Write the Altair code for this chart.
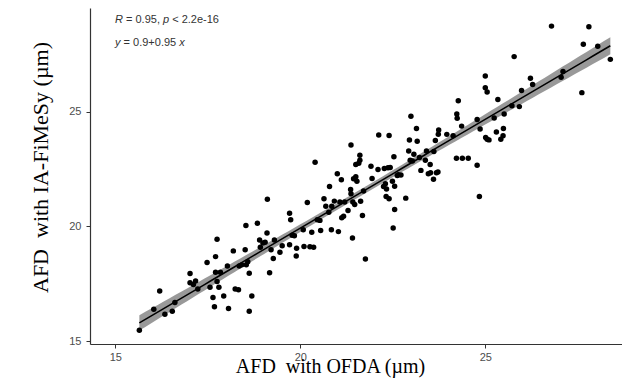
import altair as alt
import pandas as pd
import numpy as np

# AFD measured with OFDA (x) and with IA-FiMeSy (y), values in micrometres
ofda = [15.65, 16.04, 16.20, 16.34, 16.54, 16.61, 17.02, 17.02, 17.11, 17.17,
        17.23, 17.48, 17.56, 17.64, 17.68, 17.71, 17.75, 17.71, 17.75, 17.80,
        17.84, 17.93, 18.03, 18.06, 18.19, 18.24, 18.33, 18.35, 18.42, 18.51,
        18.53, 18.54, 18.58, 18.62, 18.62, 18.69, 18.84, 18.90, 18.92, 18.99,
        19.05, 19.10, 19.11, 19.17, 19.21, 19.27, 19.30, 19.45, 19.51, 19.71,
        19.74, 19.71, 19.78, 19.84, 19.89, 19.90, 20.08, 20.10, 20.19, 20.26,
        20.31, 20.36, 20.40, 20.46, 20.53, 20.55, 20.64, 20.69, 20.77, 20.79,
        20.84, 20.85, 20.92, 21.00, 21.03, 21.07, 21.11, 21.12, 21.17, 21.20,
        21.29, 21.36, 21.37, 21.37, 21.41, 21.42, 21.44, 21.47, 21.50, 21.53,
        21.50, 21.58, 21.61, 21.61, 21.63, 21.68, 21.71, 21.76, 21.91, 21.94,
        22.12, 22.10, 22.25, 22.27, 22.30, 22.32, 22.33, 22.37, 22.40, 22.40,
        22.43, 22.49, 22.51, 22.53, 22.55, 22.55, 22.62, 22.65, 22.72, 22.85,
        22.93, 22.95, 22.97, 22.99, 23.03, 23.07, 23.14, 23.16, 23.22, 23.26,
        23.38, 23.41, 23.46, 23.51, 23.52, 23.60, 23.61, 23.65, 23.68, 23.72,
        23.73, 23.74, 23.96, 24.13, 24.22, 24.23, 24.24, 24.27, 24.36, 24.38,
        24.54, 24.78, 24.78, 24.84, 24.86, 25.00, 25.00, 25.05, 25.01, 25.05,
        25.10, 25.24, 25.30, 25.34, 25.42, 25.48, 25.49, 25.51, 25.72, 25.78,
        25.92, 25.98, 26.22, 26.28, 26.79, 27.05, 27.10, 27.61, 27.65, 27.80,
        28.04, 28.38]
iafimesy = [15.47, 16.39, 17.18, 16.17, 16.30, 16.68, 17.94, 17.54, 17.46, 17.62,
            17.27, 18.42, 17.34, 16.90, 16.49, 18.68, 19.44, 18.00, 17.60, 17.34,
            18.00, 16.96, 18.27, 16.42, 18.93, 17.27, 17.24, 18.27, 18.32, 18.98,
            20.04, 18.32, 18.46, 17.95, 16.30, 16.96, 20.13, 19.40, 19.09, 19.27,
            19.31, 19.71, 21.18, 17.98, 18.98, 18.60, 19.40, 18.87, 19.15, 20.57,
            20.29, 19.20, 19.61, 19.59, 18.71, 19.04, 19.85, 19.12, 21.04, 19.11,
            19.74, 19.09, 22.79, 20.29, 20.26, 19.82, 21.20, 20.88, 20.61, 21.74,
            19.85, 20.88, 21.10, 22.29, 19.77, 21.06, 22.03, 20.37, 20.44, 21.06,
            20.69, 21.61, 23.55, 21.42, 19.49, 21.06, 22.08, 20.95, 22.16, 21.97,
            22.70, 22.75, 23.10, 22.88, 21.09, 20.47, 21.54, 18.58, 22.62, 22.09,
            23.98, 22.48, 21.74, 22.52, 21.86, 21.30, 21.63, 22.55, 23.96, 21.20,
            22.57, 21.97, 19.93, 23.03, 20.73, 21.75, 22.22, 22.25, 22.24, 21.23,
            23.29, 23.76, 22.88, 24.80, 22.85, 23.14, 24.27, 23.71, 23.00, 22.44,
            22.88, 23.29, 22.29, 22.70, 22.34, 22.05, 23.26, 23.74, 22.34, 22.37,
            24.02, 24.20, 24.01, 23.95, 22.97, 24.90, 24.71, 25.48, 24.37, 22.97,
            22.97, 22.66, 24.66, 21.30, 24.24, 26.56, 26.04, 25.86, 23.87, 23.80,
            23.77, 24.72, 24.11, 25.53, 23.80, 23.95, 24.27, 24.90, 25.26, 27.40,
            25.22, 25.92, 26.46, 26.18, 28.73, 26.50, 26.75, 25.83, 27.94, 28.70,
            27.85, 27.28]

x_ticks = [15, 20, 25]
y_ticks = [15, 20, 25]
x_title = "AFD\u00a0 with OFDA (\u00b5m)"
y_title = "AFD\u00a0 with IA-FiMeSy (\u00b5m)"

df = pd.DataFrame({"ofda": ofda, "ia": iafimesy})

# linear fit and 95% confidence band computed from the data
xa = np.array(ofda)
ya = np.array(iafimesy)
n = len(xa)
slope, intercept = np.polyfit(xa, ya, 1)
xg = np.linspace(xa.min(), xa.max(), 80)
yhat = intercept + slope * xg
resid = ya - (intercept + slope * xa)
s = np.sqrt(np.sum(resid ** 2) / (n - 2))
sxx = np.sum((xa - xa.mean()) ** 2)
se = s * np.sqrt(1.0 / n + (xg - xa.mean()) ** 2 / sxx)
tval = 1.973
band = pd.DataFrame({"ofda": xg, "fit": yhat, "lo": yhat - tval * se, "hi": yhat + tval * se})

xscale = alt.Scale(domain=[14.316, 28.695], nice=False, zero=False)
yscale = alt.Scale(domain=[14.87, 29.52], nice=False, zero=False)

xaxis = alt.Axis(values=x_ticks, title=x_title, grid=False,
                 titleFont="Liberation Serif", titleFontSize=20, titleFontWeight="normal",
                 titleColor="black", titleX=240, titleY=28, titleAlign="center",
                 titleBaseline="alphabetic",
                 labelFont="Liberation Sans", labelFontSize=11, labelColor="#4d4d4d",
                 tickSize=4, tickColor="#333333", labelPadding=3,
                 domainColor="#333333", domainWidth=1.2)
yaxis = alt.Axis(values=y_ticks, title=y_title, grid=False,
                 titleFont="Liberation Serif", titleFontSize=22, titleFontWeight="normal",
                 titleColor="black", titleAngle=270, titleX=-43, titleY=159,
                 titleAlign="center", titleBaseline="alphabetic",
                 labelFont="Liberation Sans", labelFontSize=11, labelColor="#4d4d4d",
                 tickSize=4, tickColor="#333333", labelPadding=5,
                 domainColor="#333333", domainWidth=1.2)

points = alt.Chart(df).mark_circle(size=30, color="black", opacity=1).encode(
    x=alt.X("ofda:Q", scale=xscale, axis=xaxis),
    y=alt.Y("ia:Q", scale=yscale, axis=yaxis),
)

ci = alt.Chart(band).mark_area(color="black", opacity=0.4).encode(
    x=alt.X("ofda:Q", scale=xscale),
    y=alt.Y("lo:Q", scale=yscale),
    y2="hi:Q",
)

fit = alt.Chart(band).mark_line(color="black", strokeWidth=1.5).encode(
    x=alt.X("ofda:Q", scale=xscale),
    y=alt.Y("fit:Q", scale=yscale),
)

# annotation text segments: (text, italic, x offset px, baseline y px)
annot = [
    ("R", True, 25.0, 15),
    ("= 0.95,", False, 36.0, 15),
    ("p", True, 73.0, 15),
    ("< 2.2e-16", False, 82.2, 15),
    ("y", True, 25.0, 37.5),
    ("= 0.9+0.95", False, 33.6, 37.5),
    ("x", True, 89.2, 37.5),
]
seg_layers = []
for txt, ital, px, py in annot:
    seg_layers.append(
        alt.Chart(pd.DataFrame({"t": [txt]})).mark_text(
            align="left", baseline="alphabetic", font="Liberation Sans",
            fontSize=11, color="#333333",
            fontStyle="italic" if ital else "normal",
        ).encode(text="t:N", x=alt.value(px), y=alt.value(py))
    )

chart = alt.layer(points, ci, fit, *seg_layers).properties(
    width=532, height=336,
    autosize=alt.AutoSizeParams(type="none"),
    padding={"left": 82, "top": 0, "right": 0, "bottom": 36},
).configure_view(stroke=None)

chart.save("out.html", embed_options={"renderer": "svg", "actions": False})
